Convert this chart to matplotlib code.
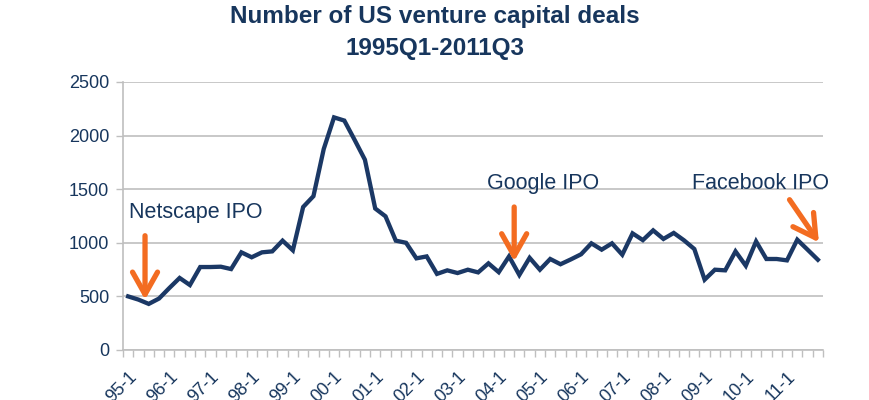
import matplotlib
matplotlib.use("Agg")
import matplotlib.pyplot as plt
from matplotlib.patches import ArrowStyle

plt.rcParams['font.family'] = ['Liberation Sans', 'DejaVu Sans']

# quarterly number of deals, 1995 Q1 onwards
deals = [500, 470, 430, 480, 578, 672, 606, 774,
         774, 777, 755, 911, 865, 911, 920, 1020,
         930, 1334, 1435, 1875, 2170, 2140, 1960, 1775,
         1320, 1247, 1020, 1000, 855, 873, 710, 743,
         718, 749, 724, 808, 726, 873, 700, 860,
         749, 849, 800, 845, 893, 995, 936, 995,
         889, 1088, 1025, 1116, 1036, 1092, 1023, 942,
         656, 749, 743, 920, 786, 1013, 849, 849,
         836, 1029, 936, 842]
years = ['95', '96', '97', '98', '99', '00', '01', '02', '03',
         '04', '05', '06', '07', '08', '09', '10', '11']
tick_labels = [y + '-1' for y in years]
tick_pos = [4 * i for i in range(len(years))]
yticks = [0, 500, 1000, 1500, 2000, 2500]

# (label, text x, text y, arrow tail, arrow tip)
events = [
    ('Netscape IPO', 0.05, 1232, (1.64, 1066), (1.64, 469)),
    ('Google IPO', 34.87, 1502, (37.5, 1334), (37.5, 827)),
    ('Facebook IPO', 54.75, 1502, (64.25, 1402), (67.1, 1004)),
]

navy = '#17365D'
line_col = '#1B3865'
orange = '#F36C21'
grey = '#BFBFBF'

fig = plt.figure(figsize=(8.7, 4.0), dpi=100)
ax = fig.add_axes([123 / 870, 50 / 400, 700 / 870, 268 / 400])

x = list(range(len(deals)))
ax.plot(x, deals, color=line_col, lw=3.1, solid_joinstyle='miter', zorder=3)

ax.set_xlim(-0.5, len(deals) - 0.5)
ax.set_ylim(0, 2500)
ax.set_yticks(yticks)
ax.yaxis.grid(True, color=grey, lw=1.2)
ax.set_axisbelow(True)

ax.set_xticks(tick_pos)
ax.set_xticklabels(tick_labels, rotation=45, ha='right', va='top',
                   rotation_mode='anchor')
ax.set_xticks([i - 0.5 for i in range(len(deals) + 1)], minor=True)
ax.tick_params(axis='x', which='major', length=0, pad=13,
               labelsize=13, labelcolor=navy)
ax.tick_params(axis='x', which='minor', length=5, width=1, color=grey)
ax.tick_params(axis='y', length=5, width=1, color=grey, pad=5,
               labelsize=13, labelcolor=navy)

for s in ['top', 'right']:
    ax.spines[s].set_visible(False)
for s in ['left', 'bottom']:
    ax.spines[s].set_color(grey)
    ax.spines[s].set_linewidth(1.2)

for label, tx, ty, tail, tip in events:
    ax.text(tx, ty, label, ha='left', va='baseline', fontsize=15.5,
            color=navy, clip_on=False)
    ax.annotate('', xy=tip, xytext=tail,
                arrowprops=dict(arrowstyle=ArrowStyle('->', head_length=0.8,
                                                      head_width=0.45),
                                mutation_scale=20, lw=3.8, color=orange,
                                shrinkA=0, shrinkB=0),
                annotation_clip=False, zorder=4)

fig.text(0.5, 1 - 17 / 400, 'Number of US venture capital deals',
         ha='center', va='center', fontsize=17.5, fontweight='bold', color=navy)
fig.text(0.5, 1 - 48 / 400, '1995Q1-2011Q3',
         ha='center', va='center', fontsize=17.5, fontweight='bold', color=navy)

fig.savefig('out.png', dpi=100)
